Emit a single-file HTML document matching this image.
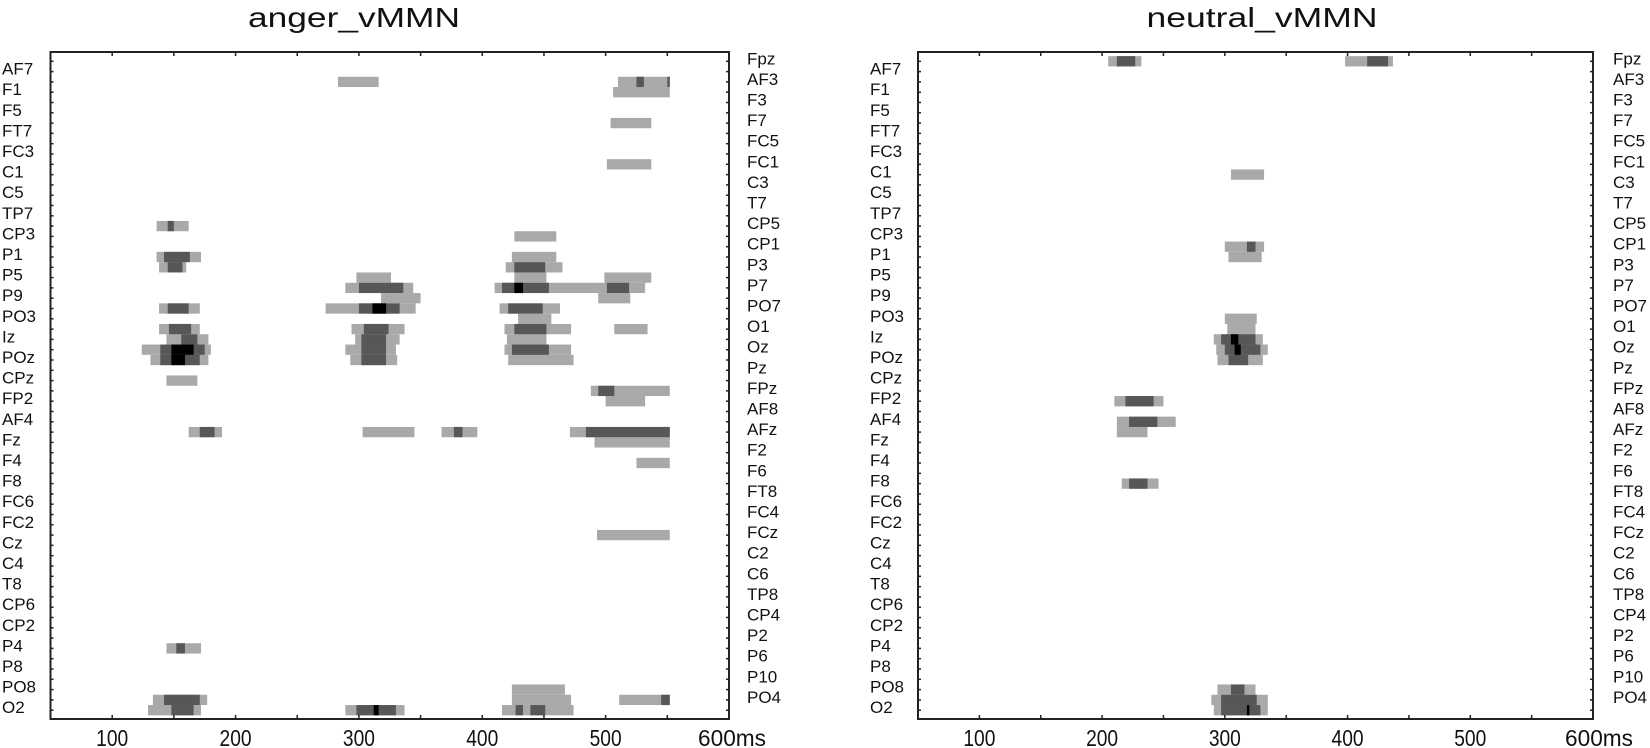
<!DOCTYPE html>
<html><head><meta charset="utf-8"><style>
html,body{margin:0;padding:0;background:#fff;}
svg{display:block;font-family:"Liberation Sans",Arial,sans-serif;}
</style></head><body>
<svg id="chart" width="1650" height="748" viewBox="0 0 1650 748" xmlns="http://www.w3.org/2000/svg"></svg>
<script>
const channels = ["Fpz","AF7","AF3","F1","F3","F5","F7","FT7","FC5","FC3","FC1","C1","C3","C5","T7","TP7","CP5","CP3","CP1","P1","P3","P5","P7","P9","PO7","PO3","O1","Iz","Oz","POz","Pz","CPz","FPz","FP2","AF8","AF4","AFz","Fz","F2","F4","F6","F8","FT8","FC6","FC4","FC2","FCz","Cz","C2","C4","C6","T8","TP8","CP6","CP4","CP2","P2","P4","P6","P8","P10","PO8","PO4","O2"];
const xTicks = [100,150,200,250,300,350,400,450,500,550];
const xTickLabels = [100,200,300,400,500];
const titles = ["anger_vMMN","neutral_vMMN"];

const angerRow   = [2,2,2,2,3,6,10,16,16,17,19,19,19,20,20,20,20,21,21,21,22,22,22,22,22,22,23,23,24,24,24,24,24,24,24,25,26,26,26,26,26,26,26,27,27,27,27,27,28,28,28,28,28,28,28,29,29,29,29,29,29,31,32,32,33,36,36,36,36,36,36,36,37,39,46,57,57,61,62,62,62,62,62,63,63,63,63,63,63,63,63];
const angerStart = [283,510,525,550,506,504,501,136,145,426,136,142,424,138,145,419,426,298,426,499,289,300,410,416,426,501,318,494,138,145,273,300,311,414,421,429,138,146,294,304,418,426,507,144,156,297,302,420,124,139,148,289,302,418,424,131,139,148,293,302,421,144,488,494,500,162,171,303,367,377,471,484,491,525,493,144,152,424,133,142,424,511,545,129,148,289,298,312,416,427,439];
const angerEnd   = [316,552,531,552,552,537,537,162,150,460,172,163,460,160,157,465,451,326,452,537,344,336,532,454,433,519,350,520,171,162,346,333,322,463,449,456,171,164,337,324,472,452,534,178,169,333,322,452,180,175,166,330,322,472,454,178,171,159,331,322,474,169,552,507,532,189,183,345,396,384,552,552,552,552,552,172,159,467,177,171,472,552,552,172,166,337,330,316,474,433,451];
const angerLevel = [1,1,2,2,1,1,1,1,2,1,1,2,1,1,2,1,2,1,1,1,1,2,1,2,3,2,1,1,1,2,1,2,3,1,2,1,1,2,1,2,1,2,1,1,2,1,2,1,1,2,3,1,2,1,2,1,2,3,1,2,1,1,1,2,1,1,2,1,1,2,1,2,1,1,1,1,2,1,1,2,1,1,2,1,2,1,2,3,1,2,2];

const neutralRow   = [0,0,0,0,11,18,18,19,25,26,27,27,27,28,28,28,29,29,33,33,35,35,36,41,41,61,61,62,62,63,63,63];
const neutralStart = [205,212,398,416,305,300,318,303,300,302,291,297,305,293,300,308,294,303,210,219,212,222,212,216,222,294,305,289,297,291,297,318];
const neutralEnd   = [232,227,437,433,332,332,325,330,326,325,331,325,311,335,329,313,331,319,250,242,260,245,237,246,237,325,316,335,326,335,329,320];
const neutralLevel = [1,2,1,2,1,1,2,1,1,1,1,2,3,1,2,3,1,2,1,2,1,2,1,1,2,1,2,1,2,1,2,3];

const NS = "http://www.w3.org/2000/svg";
const svg = document.getElementById("chart");
const levelColor = {1:"#a9a9a9",2:"#575757",3:"#000000"};
const panels = [
  {x0:50.5,x1:729,titleX:354,titleW:212,leftLabX:2,rightLabX:747,msX:698,rows:angerRow,st:angerStart,en:angerEnd,lv:angerLevel,name:"anger"},
  {x0:918,x1:1593,titleX:1262,titleW:231,leftLabX:870,rightLabX:1613,msX:1565,rows:neutralRow,st:neutralStart,en:neutralEnd,lv:neutralLevel,name:"neutral"}
];
const Y0 = 52, Y1 = 719;
function rowY(r){ return 61.3 + r*10.3; }
function mk(tag, attrs, parent){ const e=document.createElementNS(NS,tag); for(const k in attrs) e.setAttribute(k,attrs[k]); (parent||svg).appendChild(e); return e; }

panels.forEach((p,pi)=>{
  const xs = ms => p.x0 + (ms-50)*(p.x1-p.x0)/550;
  const g = mk("g",{});
  
  
  // title
  const t = mk("text",{x:p.titleX,y:27,"text-anchor":"middle","font-size":28,textLength:p.titleW,lengthAdjust:"spacingAndGlyphs",fill:"#111"},g);
  t.textContent = titles[pi];
  
  
  // bars, drawn by level
  const bg = mk("g",{},g);
  
  
  [1,2,3].forEach(L=>{
    for(let i=0;i<p.rows.length;i++){
      if(p.lv[i]!==L) continue;
      const x=xs(p.st[i]), w=xs(p.en[i])-x;
      const rc = mk("rect",{x:x,y:rowY(p.rows[i])-5.15,width:w,height:10.3,fill:levelColor[L]},bg);
      
      
    }
  });
  // frame
  const fr = mk("rect",{x:p.x0,y:Y0,width:p.x1-p.x0,height:Y1-Y0,fill:"none",stroke:"#222","stroke-width":2},g);
  
  
  // row ticks
  for(let r=0;r<channels.length;r++){
    const y=rowY(r);
    mk("line",{x1:p.x0,x2:p.x0+3,y1:y,y2:y,stroke:"#222","stroke-width":1.5},g);
    mk("line",{x1:p.x1-3,x2:p.x1,y1:y,y2:y,stroke:"#222","stroke-width":1.5},g);
    const left = r%2===1;
    const lab = mk("text",{x:left?p.leftLabX:p.rightLabX,y:y+3,"font-size":17,fill:"#111"},g);
    lab.textContent = channels[r];
    
    
  }
  // x ticks
  xTicks.forEach(v=>{
    const x=xs(v);
    mk("line",{x1:x,x2:x,y1:Y0,y2:Y0+4,stroke:"#222","stroke-width":1.5},g);
    mk("line",{x1:x,x2:x,y1:Y1-4,y2:Y1,stroke:"#222","stroke-width":1.5},g);
  });
  xTickLabels.forEach(v=>{
    const tl = mk("text",{x:xs(v),y:746,"text-anchor":"middle","font-size":23,textLength:32,lengthAdjust:"spacingAndGlyphs",fill:"#111"},g);
    tl.textContent = String(v);
    
    
  });
  const ms = mk("text",{x:p.msX,y:746,"font-size":23,textLength:68,lengthAdjust:"spacingAndGlyphs",fill:"#111"},g);
  ms.textContent = "600ms";
  
  
});
</script>
</body></html>
